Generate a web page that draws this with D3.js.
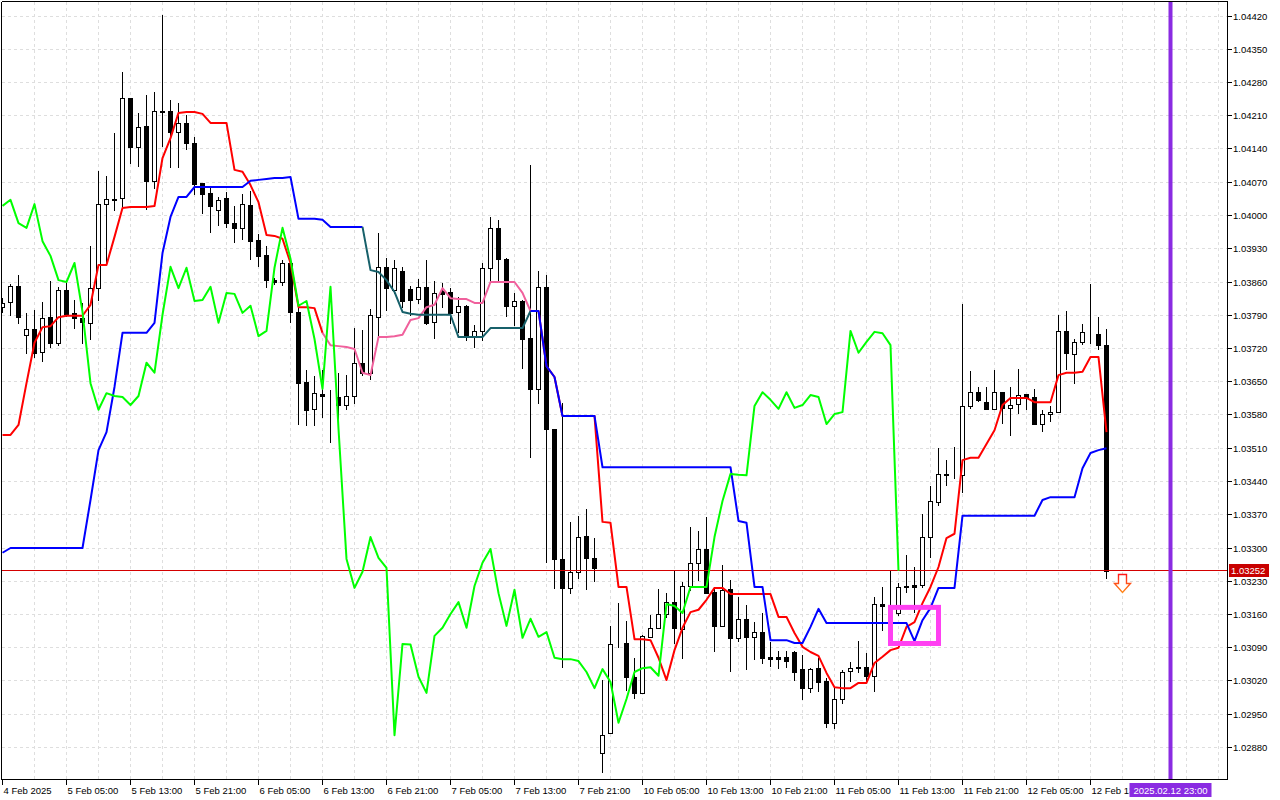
<!DOCTYPE html>
<html><head><meta charset="utf-8">
<script src="https://cdn.jsdelivr.net/npm/d3@7/dist/d3.min.js"></script>
<style>
html,body{margin:0;padding:0;background:#fff;}
svg{display:block;}
text{font-family:"Liberation Sans",Arial,sans-serif;}
</style></head><body>
<svg id="c" width="1280" height="800"></svg>
<script>
// ---- data (EURUSD H1, 4 Feb 21:00 .. 12 Feb 15:00) ----
const open=[1.03807,1.03818,1.03852,1.03749,1.03761,1.03713,1.03786,1.03732,1.03843,1.03795,
1.03784,1.03774,1.03847,1.04024,1.04035,1.04037,1.04247,1.04144,1.04189,1.04073,
1.04218,1.04220,1.04176,1.04195,1.04153,1.04069,1.04047,1.04012,1.04037,1.03984,
1.03974,1.04022,1.03948,1.03917,1.03864,1.03860,1.03900,1.03797,1.03650,1.03593,
1.03624,1.03618,1.03618,1.03601,1.03620,1.03690,1.03669,1.03786,1.03892,1.03843,
1.03883,1.03845,1.03824,1.03850,1.03776,1.03841,1.03839,1.03797,1.03810,1.03746,
1.03757,1.03890,1.03974,1.03909,1.03810,1.03820,1.03742,1.03635,1.03850,1.03551,
1.03277,1.03216,1.03250,1.03325,1.03279,1.02869,1.02911,1.03098,1.03100,1.03029,
1.02995,1.03113,1.03132,1.03161,1.03186,1.03130,1.03220,1.03269,1.03298,1.03207,
1.03136,1.03214,1.03111,1.03151,1.03113,1.03123,1.03071,1.03071,1.03071,1.03081,
1.03045,1.03005,1.03047,1.03020,1.02932,1.02982,1.03041,1.03047,1.03049,1.03031,
1.03182,1.03180,1.03163,1.03220,1.03222,1.03222,1.03323,1.03397,1.03456,1.03454,
1.03454,1.03599,1.03628,1.03607,1.03593,1.03628,1.03595,1.03603,1.03624,1.03618,
1.03561,1.03582,1.03586,1.03757,1.03708,1.03734,1.03753,1.03751,1.03727];
const high=[1.03826,1.03856,1.03875,1.03795,1.03801,1.03818,1.03862,1.03850,1.03860,1.03822,
1.03816,1.03936,1.04094,1.04083,1.04174,1.04302,1.04247,1.04216,1.04254,1.04260,
1.04422,1.04243,1.04237,1.04212,1.04165,1.04069,1.04062,1.04039,1.04050,1.04020,
1.04045,1.04052,1.03961,1.03936,1.03869,1.03906,1.03911,1.03816,1.03675,1.03662,
1.03675,1.03633,1.03669,1.03664,1.03763,1.03759,1.03803,1.03963,1.03911,1.03906,
1.03892,1.03852,1.03866,1.03906,1.03862,1.03858,1.03847,1.03829,1.03812,1.03770,
1.03900,1.03997,1.03991,1.03911,1.03837,1.03822,1.04106,1.03883,1.03875,1.03551,
1.03605,1.03355,1.03367,1.03382,1.03321,1.03022,1.03136,1.03184,1.03146,1.03069,
1.03117,1.03159,1.03214,1.03205,1.03254,1.03228,1.03344,1.03336,1.03365,1.03218,
1.03264,1.03233,1.03197,1.03180,1.03144,1.03163,1.03102,1.03083,1.03083,1.03083,
1.03075,1.03047,1.03069,1.03026,1.03005,1.03043,1.03060,1.03104,1.03079,1.03197,
1.03218,1.03252,1.03226,1.03285,1.03260,1.03372,1.03431,1.03511,1.03485,1.03513,
1.03814,1.03673,1.03639,1.03639,1.03675,1.03628,1.03639,1.03677,1.03624,1.03635,
1.03591,1.03599,1.03791,1.03799,1.03740,1.03772,1.03856,1.03786,1.03761];
const low=[1.03797,1.03791,1.03774,1.03711,1.03702,1.03694,1.03723,1.03727,1.03789,1.03763,
1.03732,1.03740,1.03822,1.03902,1.04012,1.04018,1.04111,1.04104,1.04014,1.04058,
1.04146,1.04102,1.04102,1.04140,1.04045,1.04005,1.03965,1.03980,1.03976,1.03944,
1.03951,1.03909,1.03894,1.03850,1.03856,1.03854,1.03776,1.03561,1.03559,1.03559,
1.03576,1.03523,1.03563,1.03593,1.03605,1.03664,1.03656,1.03744,1.03801,1.03837,
1.03807,1.03791,1.03816,1.03772,1.03742,1.03807,1.03774,1.03755,1.03738,1.03723,
1.03738,1.03860,1.03860,1.03789,1.03770,1.03679,1.03492,1.03605,1.03271,1.03216,
1.03050,1.03205,1.03237,1.03214,1.03231,1.02828,1.02911,1.03092,1.03001,1.02984,
1.02995,1.03113,1.03132,1.03155,1.03100,1.03069,1.03212,1.03233,1.03205,1.03083,
1.03136,1.03041,1.03104,1.03045,1.03066,1.03058,1.03052,1.03047,1.03050,1.03022,
1.02982,1.02997,1.02999,1.02923,1.02921,1.02974,1.03020,1.03039,1.03020,1.02999,
1.03127,1.03144,1.03159,1.03207,1.03165,1.03218,1.03281,1.03391,1.03433,1.03447,
1.03418,1.03595,1.03609,1.03595,1.03593,1.03563,1.03538,1.03584,1.03593,1.03561,
1.03546,1.03567,1.03586,1.03677,1.03647,1.03730,1.03732,1.03719,1.03237];
const close=[1.03816,1.03852,1.03786,1.03761,1.03711,1.03784,1.03732,1.03843,1.03793,1.03784,
1.03776,1.03847,1.04024,1.04035,1.04033,1.04247,1.04144,1.04186,1.04073,1.04220,
1.04219,1.04176,1.04195,1.04153,1.04066,1.04045,1.04020,1.04033,1.03984,1.03974,
1.04024,1.03946,1.03915,1.03864,1.03860,1.03900,1.03797,1.03647,1.03591,1.03626,
1.03620,1.03618,1.03601,1.03620,1.03690,1.03669,1.03791,1.03892,1.03847,1.03890,
1.03820,1.03822,1.03850,1.03774,1.03837,1.03835,1.03795,1.03810,1.03746,1.03757,
1.03890,1.03974,1.03909,1.03810,1.03820,1.03740,1.03635,1.03850,1.03551,1.03277,
1.03216,1.03250,1.03323,1.03279,1.03258,1.02906,1.03098,1.03097,1.03029,1.02995,
1.03115,1.03132,1.03161,1.03186,1.03132,1.03220,1.03269,1.03298,1.03205,1.03136,
1.03212,1.03111,1.03151,1.03113,1.03123,1.03069,1.03066,1.03066,1.03062,1.03039,
1.03005,1.03045,1.03018,1.02932,1.02982,1.03039,1.03047,1.03049,1.03031,1.03182,
1.03178,1.03163,1.03218,1.03218,1.03218,1.03323,1.03399,1.03456,1.03454,1.03453,
1.03599,1.03628,1.03612,1.03593,1.03628,1.03595,1.03601,1.03622,1.03618,1.03561,
1.03582,1.03586,1.03757,1.03711,1.03734,1.03755,1.03752,1.03727,1.03252];
// Ichimoku lines
const tenkan=[1.03538,1.03538,1.03559,1.03647,1.03732,1.03765,1.03767,1.03786,1.03789,1.03789,
1.03789,1.03812,1.03896,1.03896,1.03955,1.04016,1.04018,1.04018,1.04018,1.04020,
1.04121,1.04163,1.04216,1.04218,1.04218,1.04214,1.04195,1.04195,1.04195,1.04096,
1.04092,1.04064,1.04028,1.03959,1.03957,1.03951,1.03900,1.03807,1.03807,1.03805,
1.03753,1.03727,1.03725,1.03723,1.03719,1.03669,1.03664,1.03744,1.03744,1.03746,
1.03749,1.03780,1.03784,1.03807,1.03812,1.03847,1.03826,1.03824,1.03824,1.03816,
1.03816,1.03860,1.03860,1.03860,1.03860,1.03837,1.03799,1.03799,1.03683,1.03660,
1.03578,1.03578,1.03578,1.03578,1.03578,1.03355,1.03353,1.03218,1.03218,1.03108,
1.03108,1.03106,1.03069,1.03022,1.03085,1.03132,1.03165,1.03170,1.03191,1.03216,
1.03216,1.03203,1.03203,1.03203,1.03203,1.03203,1.03203,1.03155,1.03155,1.03121,
1.03092,1.03081,1.03073,1.03037,1.03007,1.03005,1.03005,1.03016,1.03016,1.03058,
1.03071,1.03085,1.03090,1.03134,1.03144,1.03184,1.03218,1.03260,1.03321,1.03330,
1.03485,1.03490,1.03490,1.03519,1.03548,1.03601,1.03616,1.03616,1.03616,1.03607,
1.03607,1.03607,1.03664,1.03669,1.03669,1.03671,1.03702,1.03702,1.03544];
const kijun=[1.03290,1.03300,1.03300,1.03300,1.03300,1.03300,1.03300,1.03300,1.03300,1.03300,
1.03300,1.03401,1.03506,1.03544,1.03639,1.03753,1.03753,1.03753,1.03753,1.03774,
1.03921,1.03997,1.04039,1.04039,1.04060,1.04060,1.04060,1.04060,1.04060,1.04060,
1.04060,1.04073,1.04075,1.04077,1.04079,1.04079,1.04081,1.03993,1.03993,1.03993,
1.03991,1.03976,1.03976,1.03976,1.03976,1.03976,1.03885,1.03881,1.03864,1.03839,
1.03797,1.03793,1.03791,1.03791,1.03791,1.03791,1.03791,1.03744,1.03744,1.03744,
1.03744,1.03763,1.03763,1.03763,1.03763,1.03763,1.03799,1.03799,1.03683,1.03660,
1.03578,1.03578,1.03578,1.03578,1.03578,1.03470,1.03470,1.03470,1.03470,1.03470,
1.03470,1.03470,1.03470,1.03470,1.03470,1.03470,1.03470,1.03470,1.03470,1.03470,
1.03470,1.03470,1.03357,1.03353,1.03218,1.03218,1.03106,1.03106,1.03106,1.03100,
1.03100,1.03134,1.03172,1.03142,1.03142,1.03142,1.03142,1.03142,1.03142,1.03142,
1.03142,1.03142,1.03142,1.03142,1.03104,1.03148,1.03174,1.03216,1.03216,1.03216,
1.03368,1.03368,1.03368,1.03368,1.03368,1.03368,1.03368,1.03368,1.03368,1.03368,
1.03401,1.03407,1.03407,1.03407,1.03407,1.03468,1.03500,1.03506,1.03510];
const chikou=[1.04020,1.04033,1.03984,1.03974,
1.04024,1.03946,1.03915,1.03864,1.03860,1.03900,1.03797,1.03647,1.03591,1.03626,
1.03620,1.03618,1.03601,1.03620,1.03690,1.03669,1.03791,1.03892,1.03847,1.03890,
1.03820,1.03822,1.03850,1.03774,1.03837,1.03835,1.03795,1.03810,1.03746,1.03757,
1.03890,1.03974,1.03909,1.03810,1.03820,1.03740,1.03635,1.03850,1.03551,1.03277,
1.03216,1.03250,1.03323,1.03279,1.03258,1.02906,1.03098,1.03097,1.03029,1.02995,
1.03115,1.03132,1.03161,1.03186,1.03132,1.03220,1.03269,1.03298,1.03205,1.03136,
1.03212,1.03111,1.03151,1.03113,1.03123,1.03069,1.03066,1.03066,1.03062,1.03039,
1.03005,1.03045,1.03018,1.02932,1.02982,1.03039,1.03047,1.03049,1.03031,1.03182,
1.03178,1.03163,1.03218,1.03218,1.03218,1.03323,1.03399,1.03456,1.03454,1.03453,
1.03599,1.03628,1.03612,1.03593,1.03628,1.03595,1.03601,1.03622,1.03618,1.03561,
1.03582,1.03586,1.03757,1.03711,1.03734,1.03755,1.03752,1.03727,1.03252];
const tenkanAltRange=[40,66];   // section drawn in pink
const kijunAltRange=[45,66];    // section drawn in dark teal
const yTickLabels=["1.02880","1.02950","1.03020","1.03090","1.03160","1.03230","1.03300","1.03370","1.03440","1.03510","1.03580","1.03650","1.03720","1.03790","1.03860","1.03930","1.04000","1.04070","1.04140","1.04210","1.04280","1.04350","1.04420"];
const xTickBars=[0,8,16,24,32,40,48,56,64,72,80,88,96,104,112,120,128,136];
const xTickLabels=["4 Feb 2025","5 Feb 05:00","5 Feb 13:00","5 Feb 21:00","6 Feb 05:00","6 Feb 13:00","6 Feb 21:00","7 Feb 05:00","7 Feb 13:00","7 Feb 21:00","10 Feb 05:00","10 Feb 13:00","10 Feb 21:00","11 Feb 05:00","11 Feb 13:00","11 Feb 21:00","12 Feb 05:00","12 Feb 13:00"];
const bidPrice=1.03252, bidLabel="1.03252";
const markerBar=146, markerLabel="2025.02.12 23:00";
const arrowBar=140;
const boxBars=[111,117], boxPrices=[1.03099,1.03175];

// ---- layout ----
const W=1280,H=800, L=1.5, T=1.5, R=1227.5, B=779.5;
const svg=d3.select("#c");
const x=d3.scaleLinear().domain([0,1]).range([2.5,10.5]);
const y=d3.scaleLinear().domain([1.02880,1.04420]).range([747.5,16]);
const crisp=v=>Math.floor(v)+0.5;
const mx=x(markerBar), boxHalf=41;

const defs=svg.append("defs");
defs.append("clipPath").attr("id","plot").append("rect")
  .attr("x",2).attr("y",2).attr("width",R-2).attr("height",B-2);
defs.append("clipPath").attr("id","xlab").append("rect")
  .attr("x",0).attr("y",B).attr("width",mx-boxHalf).attr("height",H-B);
const grad=defs.append("linearGradient").attr("id","arrowGrad").attr("x1",0).attr("y1",0).attr("x2",0).attr("y2",1);
grad.append("stop").attr("offset","0%").attr("stop-color","#ff1a1a");
grad.append("stop").attr("offset","100%").attr("stop-color","#ff8a1a");

const plot=svg.append("g").attr("clip-path","url(#plot)");

// grid
const gridG=plot.append("g").attr("stroke","#dedede").attr("stroke-dasharray","3,3").attr("shape-rendering","crispEdges");
const yTicks=yTickLabels.map(Number);
gridG.selectAll("line.h").data(yTicks).join("line").attr("class","h")
  .attr("x1",L).attr("x2",R).attr("y1",d=>crisp(y(d))).attr("y2",d=>crisp(y(d)));
gridG.selectAll("line.v").data(d3.range(4,154,4)).join("line").attr("class","v")
  .attr("x1",d=>x(d)).attr("x2",d=>x(d)).attr("y1",T).attr("y2",B);

// candles
const idx=d3.range(open.length);
const cg=plot.append("g").attr("shape-rendering","crispEdges");
cg.selectAll("line.w").data(idx).join("line").attr("class","w")
  .attr("x1",i=>x(i)).attr("x2",i=>x(i))
  .attr("y1",i=>Math.round(y(high[i]))).attr("y2",i=>Math.round(y(low[i]))+1)
  .attr("stroke","#000").attr("stroke-width",1);
cg.selectAll("rect.b").data(idx).join("rect").attr("class","b")
  .attr("x",i=>x(i)-2).attr("width",4)
  .attr("y",i=>Math.round(y(Math.max(open[i],close[i])))+0.5)
  .attr("height",i=>Math.max(0,Math.round(y(Math.min(open[i],close[i])))-Math.round(y(Math.max(open[i],close[i])))))
  .attr("fill",i=>close[i]>open[i]?"#fff":"#000").attr("stroke","#000").attr("stroke-width",1);

// bid line
plot.append("line").attr("x1",0).attr("x2",R).attr("y1",crisp(y(bidPrice))).attr("y2",crisp(y(bidPrice)))
  .attr("stroke","#d40000").attr("stroke-width",1).attr("shape-rendering","crispEdges");

// indicator lines
const mk=(arr)=>d3.line().x(i=>x(i)).y(i=>y(arr[i]));
function drawSplit(arr,range,main,alt){
  const n=arr.length;
  const segs=[[d3.range(0,range[0]+1),main],[d3.range(range[0],range[1]+1),alt],[d3.range(range[1],n),main]];
  segs.forEach(([ids,col])=>{
    plot.append("path").attr("d",mk(arr)(ids)).attr("fill","none").attr("stroke",col)
      .attr("stroke-width",2).attr("stroke-linejoin","round");
  });
}
drawSplit(tenkan,tenkanAltRange,"#ff0000","#f0609c");
drawSplit(kijun,kijunAltRange,"#0000ff","#17606a");
plot.append("path").attr("d",mk(chikou)(d3.range(chikou.length))).attr("fill","none")
  .attr("stroke","#00ff00").attr("stroke-width",2).attr("stroke-linejoin","round");

// purple time marker
plot.append("line").attr("x1",mx).attr("x2",mx).attr("y1",T).attr("y2",B)
  .attr("stroke","#8a2be2").attr("stroke-width",4);

// highlight box
plot.append("rect").attr("x",x(boxBars[0])).attr("width",x(boxBars[1])-x(boxBars[0]))
  .attr("y",y(boxPrices[1])).attr("height",y(boxPrices[0])-y(boxPrices[1]))
  .attr("fill","none").attr("stroke","#ff40f2").attr("stroke-width",5);

// sell arrow
{
  const cx=x(arrowBar), ty=Math.round(y(close[close.length-1]))+3.5;
  const p=[[cx-4,ty],[cx+4,ty],[cx+4,ty+9],[cx+8,ty+9],[cx,ty+18],[cx-8,ty+9],[cx-4,ty+9]];
  plot.append("path").attr("d","M"+p.map(d=>d.join(",")).join("L")+"Z")
    .attr("fill","#fff").attr("stroke","url(#arrowGrad)").attr("stroke-width",1.4).attr("stroke-linejoin","miter");
}

// frame
const fr=svg.append("g").attr("stroke","#000").attr("stroke-width",1).attr("shape-rendering","crispEdges");
fr.append("line").attr("x1",L).attr("x2",R).attr("y1",T).attr("y2",T);
fr.append("line").attr("x1",L).attr("x2",L).attr("y1",T).attr("y2",B);
fr.append("line").attr("x1",R).attr("x2",R).attr("y1",T).attr("y2",B);
fr.append("line").attr("x1",L).attr("x2",R).attr("y1",B).attr("y2",B);

// right axis
const ya=svg.append("g");
ya.selectAll("line").data(yTicks).join("line")
  .attr("x1",R).attr("x2",R+4).attr("y1",d=>crisp(y(d))).attr("y2",d=>crisp(y(d)))
  .attr("stroke","#000").attr("shape-rendering","crispEdges");
ya.selectAll("text").data(yTickLabels).join("text")
  .attr("x",1233).attr("y",d=>crisp(y(+d))).attr("dy","0.35em")
  .attr("font-size",9.5).attr("fill","#000").text(d=>d);

// bid label
{
  const by=crisp(y(bidPrice));
  svg.append("rect").attr("x",1229).attr("y",by-6.5).attr("width",40).attr("height",13).attr("fill","#c80000");
  svg.append("text").attr("x",1231).attr("y",by).attr("dy","0.35em").attr("font-size",9.5).attr("fill","#fff").text(bidLabel);
}

// bottom axis
const xa=svg.append("g");
xa.selectAll("line").data(xTickBars).join("line")
  .attr("x1",d=>x(d)).attr("x2",d=>x(d)).attr("y1",B).attr("y2",B+5)
  .attr("stroke","#000").attr("shape-rendering","crispEdges");
xa.append("g").attr("clip-path","url(#xlab)").selectAll("text").data(xTickBars).join("text")
  .attr("x",d=>x(d)+1).attr("y",794).attr("font-size",9.5).attr("fill","#000")
  .text((d,i)=>xTickLabels[i]);

// marker label
svg.append("rect").attr("x",mx-boxHalf).attr("y",783).attr("width",boxHalf*2).attr("height",14).attr("fill","#8a2be2");
svg.append("text").attr("x",mx).attr("y",794).attr("text-anchor","middle").attr("font-size",9.5).attr("fill","#fff").text(markerLabel);
</script>
</body></html>
